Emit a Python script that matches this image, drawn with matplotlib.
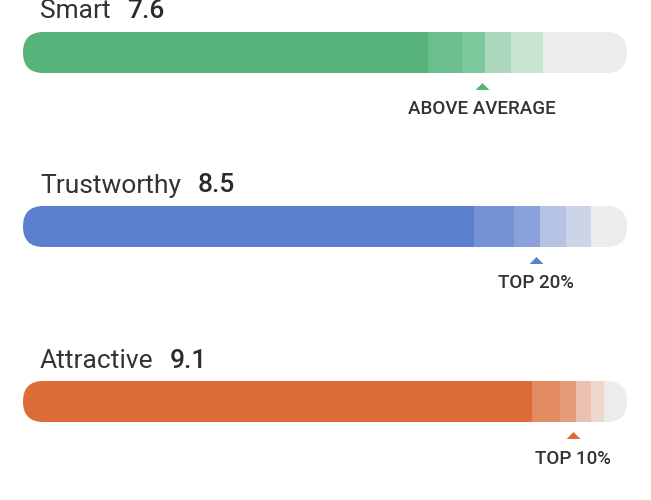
import matplotlib
matplotlib.use("Agg")
import matplotlib.pyplot as plt
from matplotlib.patches import FancyBboxPatch

plt.rcParams['font.family'] = ['Roboto', 'DejaVu Sans']

# data
traits = ["Smart", "Trustworthy", "Attractive"]
scores = [7.6, 8.5, 9.1]
ranks = ["ABOVE AVERAGE", "TOP 20%", "TOP 10%"]
# right edges of the shaded bands (score scale 0-10)
smart_bands = [6.71, 7.27, 7.65, 8.08, 8.61]
trust_bands = [7.47, 8.13, 8.56, 8.99, 9.40]
attr_bands = [8.43, 8.89, 9.16, 9.40, 9.62]
bands = [smart_bands, trust_bands, attr_bands]

palettes = [
    ["#56b47a", "#6bbf8e", "#7cc79c", "#acd8be", "#c8e4d3"],
    ["#5b7ecf", "#7592d5", "#8aa1d9", "#b6c3e4", "#ccd5e8"],
    ["#de6c38", "#e28a62", "#e59b79", "#e9c1ae", "#edd7cb"],
]
track = "#ececec"
txt = "#333333"

fig = plt.figure(figsize=(6.51, 5), dpi=100)
ax = fig.add_axes([23 / 651, 0, 604 / 651, 1])
ax.set_xlim(0, 10)
ax.set_ylim(500, 0)
ax.axis("off")

bar_h = 41
rows = [52.5, 226.5, 401.5]
r = 0.34  # corner radius in score units

for yc, name, sc, rk, edges, cols in zip(rows, traits, scores, ranks, bands, palettes):
    pill = FancyBboxPatch((0, yc - bar_h / 2), 10, bar_h,
                          boxstyle="round,pad=0,rounding_size=%.3f" % r,
                          mutation_aspect=(bar_h / 2) / r,
                          facecolor=track, edgecolor="none")
    ax.add_patch(pill)

    left = 0
    for e, c in zip(edges, cols):
        b = ax.barh(yc, e - left, left=left, height=bar_h, color=c, linewidth=0)
        b[0].set_clip_path(pill)
        left = e

    # triangle marker at the score
    ax.plot(sc, yc + 33, marker=[(-1, -0.5), (1, -0.5), (0, 0.5)],
            ms=10, color=cols[0], mew=0)
    ax.text(sc, yc + 62, rk, ha="center", va="baseline", fontsize=13.5,
            fontweight="medium", color=txt)

    t = ax.text(0.28, yc - 34, name, ha="left", va="baseline",
                fontsize=19, color=txt)
    ax.annotate("%.1f" % sc, xy=(1, yc - 34), xycoords=(t, "data"),
                xytext=(12, 0), textcoords="offset points",
                ha="left", va="baseline", fontsize=19,
                fontweight="medium", color="#2b2b2b")

fig.savefig("out.png", dpi=100)
